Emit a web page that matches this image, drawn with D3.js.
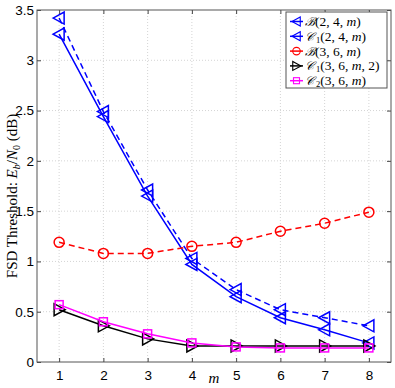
<!DOCTYPE html>
<html>
<head>
<meta charset="utf-8">
<script src="https://cdn.jsdelivr.net/npm/d3@7"></script>
<style>
  body { margin: 0; background: #fff; }
  svg { display: block; font-family: "Liberation Serif", "DejaVu Serif", serif; }
  .grid line { stroke: #d4d4d4; stroke-dasharray: 1,2; }
  .axis text { font-size: 13.5px; fill: #000; }
</style>
</head>
<body>
<svg id="chart" width="395" height="388"></svg>
<script>
const mValues = [1, 2, 3, 4, 5, 6, 7, 8];
const yTicks = [0, 0.5, 1, 1.5, 2, 2.5, 3, 3.5];

const B_2_4 = [3.42, 2.49, 1.71, 1.03, 0.72, 0.52, 0.44, 0.36];
const C1_2_4 = [3.26, 2.44, 1.65, 0.97, 0.65, 0.44, 0.32, 0.19];
const B_3_6 = [1.19, 1.08, 1.08, 1.15, 1.19, 1.30, 1.38, 1.49];
const C1_3_6_2 = [0.52, 0.36, 0.23, 0.16, 0.16, 0.16, 0.16, 0.16];
const C2_3_6 = [0.57, 0.40, 0.28, 0.19, 0.15, 0.14, 0.14, 0.14];

const series = [
    { label: ['ℬ', '', '(2, 4, ', 'm', ')'], values: B_2_4, color: '#0000ff', dash: '6,4', marker: 'triLeft' },
    { label: ['𝒞', '1', '(2, 4, ', 'm', ')'], values: C1_2_4, color: '#0000ff', dash: null, marker: 'triLeft' },
    { label: ['ℬ', '', '(3, 6, ', 'm', ')'], values: B_3_6, color: '#ff0000', dash: '6,4', marker: 'circle' },
    { label: ['𝒞', '1', '(3, 6, ', 'm', ', 2)'], values: C1_3_6_2, color: '#000000', dash: null, marker: 'triRight' },
    { label: ['𝒞', '2', '(3, 6, ', 'm', ')'], values: C2_3_6, color: '#ff00ff', dash: null, marker: 'square' },
];

const width = 395;
const height = 388;
const margin = { top: 10, right: 4, bottom: 26, left: 37 };

const svg = d3.select('#chart');

const x = d3.scaleLinear().domain([0.5, 8.5]).range([margin.left, width - margin.right]);
const y = d3.scaleLinear().domain([0, 3.5]).range([height - margin.bottom, margin.top]);

// grid
const grid = svg.append('g').classed('grid', true);
grid.selectAll('.gx')
    .data(mValues)
    .join('line')
    .attr('x1', d => x(d)).attr('x2', d => x(d))
    .attr('y1', y(0)).attr('y2', y(3.5));
grid.selectAll('.gy')
    .data(yTicks.slice(1, -1))
    .join('line')
    .attr('class', 'gy')
    .attr('x1', x(0.5)).attr('x2', x(8.5))
    .attr('y1', d => y(d)).attr('y2', d => y(d));

// axes, ticks inward on all sides
const tickLen = 4;
svg.append('g')
    .classed('axis', true)
    .attr('transform', `translate(0,${y(0)})`)
    .call(d3.axisBottom(x).tickValues(mValues).tickSize(-tickLen).tickPadding(8).tickSizeOuter(0))
    .call(g => g.select('.domain').remove());
svg.append('g')
    .classed('axis', true)
    .attr('transform', `translate(${x(0.5)},0)`)
    .call(d3.axisLeft(y).tickValues(yTicks).tickSize(-tickLen).tickPadding(3).tickFormat(d3.format('')).tickSizeOuter(0))
    .call(g => g.select('.domain').remove());
svg.append('g')
    .attr('transform', `translate(0,${y(3.5)})`)
    .call(d3.axisTop(x).tickValues(mValues).tickSize(-tickLen).tickFormat('').tickSizeOuter(0))
    .call(g => g.select('.domain').remove());
svg.append('g')
    .attr('transform', `translate(${x(8.5)},0)`)
    .call(d3.axisRight(y).tickValues(yTicks).tickSize(-tickLen).tickFormat('').tickSizeOuter(0))
    .call(g => g.select('.domain').remove());
svg.selectAll('.tick line').attr('stroke', '#444');

svg.append('rect')
    .attr('x', x(0.5)).attr('y', y(3.5))
    .attr('width', x(8.5) - x(0.5)).attr('height', y(0) - y(3.5))
    .attr('fill', 'none').attr('stroke', '#555').attr('stroke-width', 1);

// markers
function drawMarker(sel, type, color) {
    if (type === 'circle') {
        sel.append('circle').attr('r', 5);
    } else if (type === 'square') {
        sel.append('rect').attr('x', -4).attr('y', -4).attr('width', 8).attr('height', 8);
    } else if (type === 'triLeft') {
        sel.append('path').attr('d', 'M-6,0L5,-6L5,6Z');
    } else {
        sel.append('path').attr('d', 'M6,0L-5,-6L-5,6Z');
    }
    sel.selectAll('*').attr('fill', 'none').attr('stroke', color).attr('stroke-width', 1.5);
}

const line = d3.line().x((d, i) => x(mValues[i])).y(d => y(d));
const plot = svg.append('g');

series.forEach(s => {
    plot.append('path')
        .datum(s.values)
        .attr('d', line)
        .attr('fill', 'none')
        .attr('stroke', s.color)
        .attr('stroke-width', 1.5)
        .attr('stroke-dasharray', s.dash);
    plot.selectAll(null)
        .data(s.values)
        .join('g')
        .attr('transform', (d, i) => `translate(${x(mValues[i])},${y(d)})`)
        .each(function () { drawMarker(d3.select(this), s.marker, s.color); });
});

// axis titles
svg.append('text')
    .attr('x', x(4.5))
    .attr('y', 383)
    .attr('text-anchor', 'middle')
    .attr('font-size', 15)
    .attr('font-style', 'italic')
    .text('m');

const yTitle = svg.append('text')
    .attr('transform', 'translate(17,196) rotate(-90)')
    .attr('text-anchor', 'middle')
    .attr('font-size', 15);
yTitle.append('tspan').text('FSD Threshold: ');
yTitle.append('tspan').attr('font-style', 'italic').text('E');
yTitle.append('tspan').attr('font-size', 10).attr('font-style', 'italic').attr('dy', 3).text('b');
yTitle.append('tspan').attr('dy', -3).text('/');
yTitle.append('tspan').attr('font-style', 'italic').text('N');
yTitle.append('tspan').attr('font-size', 10).attr('dy', 3).text('0');
yTitle.append('tspan').attr('dy', -3).text(' (dB)');

// legend
const legend = svg.append('g').attr('transform', 'translate(286,12)');
legend.append('rect')
    .attr('width', 101).attr('height', 76)
    .attr('fill', '#fff').attr('stroke', '#555');

const rows = legend.selectAll('g.row')
    .data(series)
    .join('g')
    .attr('class', 'row')
    .attr('transform', (d, i) => `translate(0,${9.5 + i * 14.8})`);

rows.append('line')
    .attr('x1', 4).attr('x2', 17)
    .attr('stroke', d => d.color)
    .attr('stroke-width', 1.5);
rows.append('g')
    .attr('transform', 'translate(10.5,0)')
    .each(function (d) {
        const g = d3.select(this);
        drawMarker(g, d.marker, d.color);
        g.selectAll('*').attr('transform', 'scale(0.75)');
    });

const labels = rows.append('text')
    .attr('x', 19)
    .attr('y', 4.5)
    .attr('font-size', 13.5);
labels.append('tspan').attr('font-family', '"DejaVu Serif", serif').attr('font-size', 12).attr('font-style', 'italic').text(d => d.label[0]);
labels.filter(d => d.label[1])
    .append('tspan').attr('font-size', 8.5).attr('dx', 2).attr('dy', 2).text(d => d.label[1]);
labels.append('tspan').attr('dy', d => (d.label[1] ? -2 : 0)).text(d => d.label[2]);
labels.append('tspan').attr('font-style', 'italic').text(d => d.label[3]);
labels.append('tspan').text(d => d.label[4]);
</script>
</body>
</html>
